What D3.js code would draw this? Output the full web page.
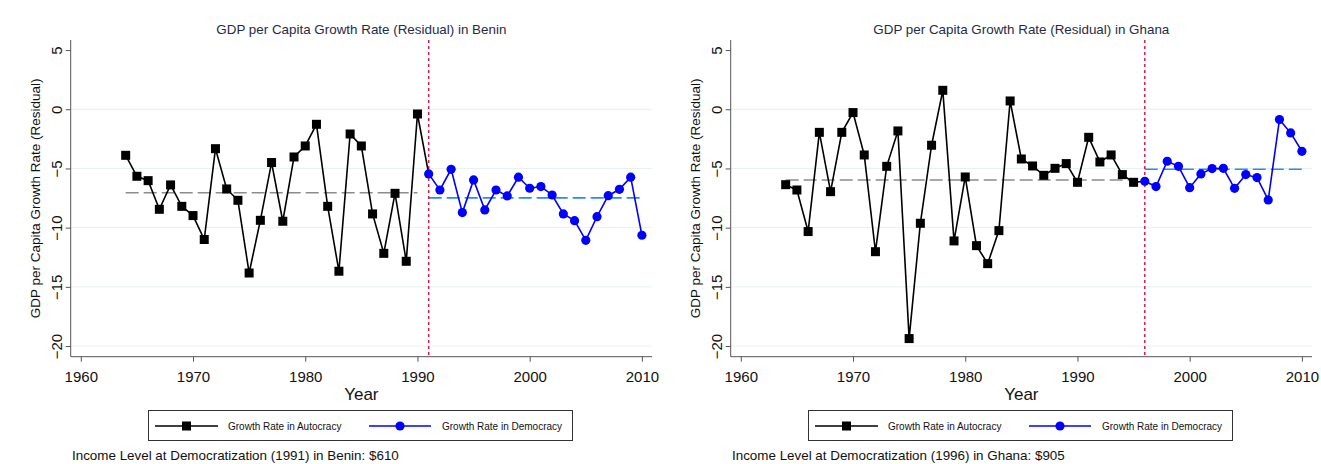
<!DOCTYPE html>
<html>
<head>
<meta charset="utf-8">
<script src="https://cdn.jsdelivr.net/npm/d3@7"></script>
<style>
  html, body { margin: 0; padding: 0; background: #fff; }
  svg { display: block; font-family: "Liberation Sans", Arial, sans-serif; }
</style>
</head>
<body>
<svg id="chart" width="1321" height="464"></svg>
<script>
// Years covered by both panels
const years = [1964, 1965, 1966, 1967, 1968, 1969, 1970, 1971, 1972, 1973,
  1974, 1975, 1976, 1977, 1978, 1979, 1980, 1981, 1982, 1983, 1984, 1985,
  1986, 1987, 1988, 1989, 1990, 1991, 1992, 1993, 1994, 1995, 1996, 1997,
  1998, 1999, 2000, 2001, 2002, 2003, 2004, 2005, 2006, 2007, 2008, 2009, 2010];

// GDP per capita growth rate (residual), Benin
const beninGrowth = [-3.89, -5.66, -6.03, -8.45, -6.39, -8.20, -8.98, -11.00,
  -3.33, -6.73, -7.69, -13.83, -9.38, -4.50, -9.46, -4.03, -3.10, -1.27, -8.20,
  -13.68, -2.09, -3.10, -8.84, -12.17, -7.10, -12.84, -0.40,
  -5.46, -6.82, -5.07, -8.73, -5.97, -8.50, -6.82, -7.32, -5.74, -6.67, -6.53,
  -7.24, -8.84, -9.41, -11.07, -9.07, -7.30, -6.76, -5.74, -10.64];

// GDP per capita growth rate (residual), Ghana
const ghanaGrowth = [-6.37, -6.82, -10.33, -1.95, -6.96, -1.95, -0.28, -3.86,
  -12.03, -4.82, -1.83, -19.37, -9.63, -3.04, 1.60, -11.12, -5.72, -11.52,
  -13.04, -10.25, 0.70, -4.20, -4.79, -5.58, -4.99, -4.59, -6.17, -2.37, -4.45,
  -3.86, -5.52, -6.17,
  -6.08, -6.53, -4.39, -4.82, -6.62, -5.46, -5.01, -4.99, -6.68, -5.52, -5.77,
  -7.66, -0.87, -2.00, -3.55];

const countries = ["Benin", "Ghana"];
const democratizationYear = [1991, 1996];
const incomeAtDemocratization = [610, 905];
const xTicks = [1960, 1970, 1980, 1990, 2000, 2010];
const yTicks = [5, 0, -5, -10, -15, -20];
const legendLabels = ["Growth Rate in Autocracy", "Growth Rate in Democracy"];

const panels = [
  { name: countries[0], values: beninGrowth, demYear: democratizationYear[0], income: incomeAtDemocratization[0] },
  { name: countries[1], values: ghanaGrowth, demYear: democratizationYear[1], income: incomeAtDemocratization[1] }
];

const svg = d3.select("#chart");
const panelWidth = 660;
const plot = { left: 70.7, right: 652, top: 40, bottom: 356.7 };

const x = d3.scaleLinear().domain([1959.1, 2010.9]).range([plot.left, plot.right]);
const y = d3.scaleLinear().domain([-20.9, 5.85]).range([plot.bottom, plot.top]);

const squareSize = 9;
const dotRadius = 4.6;

panels.forEach((p, i) => {
  const g = svg.append("g").attr("transform", `translate(${i * panelWidth},0)`);

  const series = years.map((yr, k) => ({ year: yr, value: p.values[k] }));
  const autocracy = series.filter(d => d.year < p.demYear);
  const democracy = series.filter(d => d.year >= p.demYear);
  // black line runs through the first democratic year so the two regimes join
  const autocracyPath = series.filter(d => d.year <= p.demYear);

  // horizontal grid
  g.append("g").selectAll("line")
    .data(yTicks.filter(t => t !== 5))
    .join("line")
    .attr("x1", plot.left).attr("x2", plot.right)
    .attr("y1", d => y(d)).attr("y2", d => y(d))
    .attr("stroke", "#e8f0f1").attr("stroke-width", 1);

  // title
  g.append("text")
    .attr("x", (plot.left + plot.right) / 2).attr("y", 34)
    .attr("text-anchor", "middle")
    .attr("font-size", 13.4).attr("fill", "#1f2b47")
    .text(`GDP per Capita Growth Rate (Residual) in ${p.name}`);

  // y axis
  const yAxis = g.append("g")
    .attr("transform", `translate(${plot.left},0)`)
    .call(d3.axisLeft(y).tickValues(yTicks).tickSize(5).tickFormat(d3.format("d")));
  yAxis.select(".domain").attr("d", `M0,${plot.top}V${plot.bottom}`).attr("stroke", "#555");
  yAxis.selectAll(".tick line").attr("stroke", "#555");
  yAxis.selectAll(".tick text")
    .attr("x", 0).attr("y", -9).attr("dy", 0)
    .attr("transform", "rotate(-90)")
    .attr("text-anchor", "middle")
    .attr("font-size", 15).attr("fill", "#111")
    .attr("font-family", "\"Liberation Sans\", Arial, sans-serif");

  // x axis
  const xAxis = g.append("g")
    .attr("transform", `translate(0,${plot.bottom})`)
    .call(d3.axisBottom(x).tickValues(xTicks).tickSize(5).tickFormat(d3.format("d")));
  xAxis.select(".domain").attr("d", `M${plot.left},0H${plot.right}`).attr("stroke", "#555");
  xAxis.selectAll(".tick line").attr("stroke", "#555");
  xAxis.selectAll(".tick text")
    .attr("y", 25.5).attr("dy", 0)
    .attr("font-size", 15).attr("fill", "#111")
    .attr("font-family", "\"Liberation Sans\", Arial, sans-serif");

  // axis titles
  g.append("text")
    .attr("transform", `translate(40,${(plot.top + plot.bottom) / 2}) rotate(-90)`)
    .attr("text-anchor", "middle")
    .attr("font-size", 13.5).attr("fill", "#111")
    .text("GDP per Capita Growth Rate (Residual)");
  g.append("text")
    .attr("x", (plot.left + plot.right) / 2).attr("y", 400)
    .attr("text-anchor", "middle")
    .attr("font-size", 17).attr("fill", "#111")
    .text("Year");

  // regime averages
  const autoMean = d3.mean(autocracy, d => d.value);
  const demoMean = d3.mean(democracy, d => d.value);
  g.append("line")
    .attr("x1", x(autocracy[0].year)).attr("x2", x(autocracy[autocracy.length - 1].year))
    .attr("y1", y(autoMean)).attr("y2", y(autoMean))
    .attr("stroke", "#8c8c8c").attr("stroke-width", 1.6)
    .attr("stroke-dasharray", "13,5");
  g.append("line")
    .attr("x1", x(democracy[0].year)).attr("x2", x(democracy[democracy.length - 1].year))
    .attr("y1", y(demoMean)).attr("y2", y(demoMean))
    .attr("stroke", "#2a8cf0").attr("stroke-width", 1.6)
    .attr("stroke-dasharray", "13,5");

  // democratization marker
  g.append("line")
    .attr("x1", x(p.demYear)).attr("x2", x(p.demYear))
    .attr("y1", plot.top).attr("y2", plot.bottom)
    .attr("stroke", "#d41f47").attr("stroke-width", 1.5)
    .attr("stroke-dasharray", "3,3");

  const line = d3.line().x(d => x(d.year)).y(d => y(d.value));

  g.append("path").datum(autocracyPath)
    .attr("d", line).attr("fill", "none")
    .attr("stroke", "#000").attr("stroke-width", 1.6);
  g.append("path").datum(democracy)
    .attr("d", line).attr("fill", "none")
    .attr("stroke", "#0000ff").attr("stroke-width", 1.6);

  g.append("g").selectAll("rect")
    .data(autocracy)
    .join("rect")
    .attr("x", d => x(d.year) - squareSize / 2)
    .attr("y", d => y(d.value) - squareSize / 2)
    .attr("width", squareSize).attr("height", squareSize)
    .attr("fill", "#000");

  g.append("g").selectAll("circle")
    .data(democracy)
    .join("circle")
    .attr("cx", d => x(d.year)).attr("cy", d => y(d.value))
    .attr("r", dotRadius)
    .attr("fill", "#0000ff");

  // legend
  const lg = g.append("g");
  lg.append("rect")
    .attr("x", 148.5).attr("y", 410.5).attr("width", 424).attr("height", 30)
    .attr("fill", "#fff").attr("stroke", "#333").attr("stroke-width", 1);
  const ly = 426;
  lg.append("line").attr("x1", 155).attr("x2", 218).attr("y1", ly).attr("y2", ly)
    .attr("stroke", "#000").attr("stroke-width", 1.6);
  lg.append("rect").attr("x", 186.5 - squareSize / 2).attr("y", ly - squareSize / 2)
    .attr("width", squareSize).attr("height", squareSize).attr("fill", "#000");
  lg.append("text").attr("x", 228).attr("y", ly + 3.6)
    .attr("font-size", 10).attr("fill", "#111").text(legendLabels[0]);
  lg.append("line").attr("x1", 369).attr("x2", 431).attr("y1", ly).attr("y2", ly)
    .attr("stroke", "#0000ff").attr("stroke-width", 1.6);
  lg.append("circle").attr("cx", 400).attr("cy", ly).attr("r", dotRadius).attr("fill", "#0000ff");
  lg.append("text").attr("x", 442).attr("y", ly + 3.6)
    .attr("font-size", 10).attr("fill", "#111").text(legendLabels[1]);

  // note under the chart
  g.append("text")
    .attr("x", 72).attr("y", 460)
    .attr("font-size", 13.4).attr("fill", "#111")
    .text(`Income Level at Democratization (${p.demYear}) in ${p.name}: $${p.income}`);
});
</script>
</body>
</html>
